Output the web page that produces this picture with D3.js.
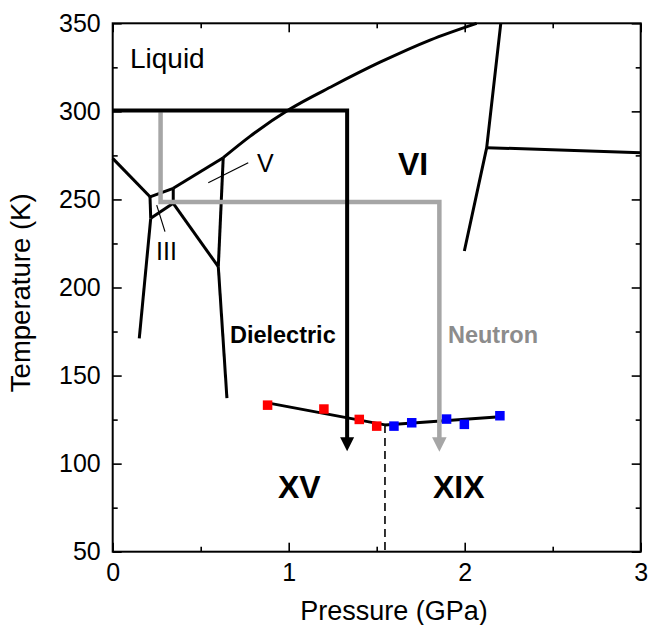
<!DOCTYPE html>
<html>
<head>
<meta charset="utf-8">
<script src="https://cdnjs.cloudflare.com/ajax/libs/d3/7.8.5/d3.min.js"></script>
<style>
  body { margin: 0; background: #fff; }
  text { font-family: "Liberation Sans", Arial, sans-serif; }
</style>
</head>
<body>
<div id="chart"></div>
<script>
(function () {
	var width = 649;
	var height = 625;
	var margin = { top: 23.3, right: 8.3, bottom: 73.3, left: 112.7 };

	// axis ticks
	var xMajor = [0, 1, 2, 3];
	var xMinor = [0.5, 1.5, 2.5];
	var yMajor = [50, 100, 150, 200, 250, 300, 350];
	var yMinor = [75, 125, 175, 225, 275, 325];

	// phase boundaries, [pressure GPa, temperature K]
	var liquidIh = [[0, 273.3], [0.212, 251.5]];
	var liquidIII = [[0.212, 251.5], [0.344, 256.3]];
	var liquidV = [[0.344, 256.3], [0.628, 273.7]];
	var liquidVI = [[0.628, 273.7], [0.78, 285.8], [1.007, 301.3], [1.25, 314.4], [1.519, 327.9], [1.803, 340.5], [2.068, 350]];
	var ihIII = [[0.212, 251.5], [0.216, 239.3]];
	var ihII = [[0.216, 239.3], [0.151, 171.1]];
	var iiiII = [[0.216, 239.3], [0.344, 247.8]];
	var iiiV = [[0.344, 256.3], [0.344, 247.8]];
	var iiV = [[0.344, 247.8], [0.6, 211.8]];
	var vVI = [[0.628, 273.7], [0.6, 211.8]];
	var iiVI = [[0.6, 211.8], [0.649, 137.2]];
	var viVII = [[2.205, 350], [2.125, 279.4], [1.998, 220.7]];
	var viiVIII = [[2.125, 279.4], [3, 276.5]];

	// transition points VI -> XV (red) and VI -> XIX (blue)
	var xvP = [0.88, 1.2, 1.401, 1.5];
	var xvT = [133.2, 131.0, 125.1, 121.3];
	var xixP = [1.598, 1.699, 1.897, 1.998, 2.2];
	var xixT = [121.3, 123.2, 125.3, 122.3, 127.2];

	// guide lines through the points
	var xvFit = [[0.88, 134.5], [1.547, 122.0]];
	var xixFit = [[1.547, 122.0], [2.2, 126.6]];
	var boundary = [[1.547, 122.0], [1.547, 50]];

	// measurement paths
	var dielectricPath = [[0, 300.5], [1.332, 300.5], [1.332, 107.1]];
	var neutronPath = [[0.272, 299.5], [0.272, 248.5], [1.856, 248.5], [1.856, 106.7]];

	// labels, anchored at [pressure, temperature]
	var labels = [
		{ text: "Liquid", at: [0.098, 324.6], cls: "plain" },
		{ text: "V", at: [0.82, 265.6], cls: "small" },
		{ text: "III", at: [0.246, 215.6], cls: "small" },
		{ text: "VI", at: [1.621, 263.9], cls: "phase" },
		{ text: "XV", at: [0.939, 80.4], cls: "phase" },
		{ text: "XIX", at: [1.82, 80.4], cls: "phase" },
		{ text: "Dielectric", at: [0.666, 168.5], cls: "method" },
		{ text: "Neutron", at: [1.905, 168.5], cls: "method gray" }
	];
	var leaders = [
		[[0.543, 259.5], [0.77, 270.8]],
		[[0.25, 246.8], [0.297, 231.7]]
	];

	var svg = d3.select("#chart")
	   .append("svg")
	   .attr("width", width)
	   .attr("height", height)

	var x = d3.scaleLinear().domain([0, 3]).range([margin.left, width - margin.right])
	var y = d3.scaleLinear().domain([50, 350]).range([height - margin.bottom, margin.top])

	var line = d3.line()
	  .x(function (d) { return x(d[0]); })
	  .y(function (d) { return y(d[1]); })

	// ticks on all four sides, pointing inward
	function ticks(axis, pos, values, size, labelled) {
		var g = svg.append("g").attr("transform", pos)
		  .call(axis.tickValues(values).tickSize(-size).tickPadding(12)
		    .tickFormat(labelled ? d3.format("d") : ""))
		g.select(".domain").remove()
		g.selectAll("line").attr("stroke", "#000").attr("stroke-width", 1.6)
		g.selectAll("text").attr("font-size", 25).attr("fill", "#000")
	}
	var bottom = "translate(0," + y(50) + ")";
	var top = "translate(0," + y(350) + ")";
	var left = "translate(" + x(0) + ",0)";
	var right = "translate(" + x(3) + ",0)";
	ticks(d3.axisBottom(x), bottom, xMajor, 9, true)
	ticks(d3.axisBottom(x), bottom, xMinor, 5, false)
	ticks(d3.axisTop(x), top, xMajor, 9, false)
	ticks(d3.axisTop(x), top, xMinor, 5, false)
	ticks(d3.axisLeft(y), left, yMajor, 9, true)
	ticks(d3.axisLeft(y), left, yMinor, 5, false)
	ticks(d3.axisRight(y), right, yMajor, 9, false)
	ticks(d3.axisRight(y), right, yMinor, 5, false)

	svg.append("rect")
	  .attr("x", x(0)).attr("y", y(350))
	  .attr("width", x(3) - x(0)).attr("height", y(50) - y(350))
	  .attr("fill", "none").attr("stroke", "#000").attr("stroke-width", 2)

	svg.append("text")
	  .attr("transform", "translate(30," + y(197) + ") rotate(-90)")
	  .attr("text-anchor", "middle")
	  .attr("font-size", 27.5)
	  .text("Temperature (K)")

	svg.append("text")
	  .attr("x", 394).attr("y", 620)
	  .attr("text-anchor", "middle")
	  .attr("font-size", 27)
	  .text("Pressure (GPa)")

	// phase diagram
	var phases = [liquidIh, liquidIII, liquidV, ihIII, ihII, iiiII, iiiV, iiV, vVI, iiVI, viVII, viiVIII];
	svg.selectAll(".phase-line")
	  .data(phases)
	  .enter().append("path")
	  .attr("class", "phase-line")
	  .attr("d", line)
	  .attr("fill", "none").attr("stroke", "#000").attr("stroke-width", 3)
	  .attr("stroke-linejoin", "round")

	svg.append("path")
	  .attr("d", line.curve(d3.curveMonotoneX)(liquidVI))
	  .attr("fill", "none").attr("stroke", "#000").attr("stroke-width", 3)
	line.curve(d3.curveLinear)

	svg.selectAll(".leader")
	  .data(leaders)
	  .enter().append("path")
	  .attr("class", "leader")
	  .attr("d", line)
	  .attr("stroke", "#000").attr("stroke-width", 1.2)

	// fits and boundary
	svg.selectAll(".fit")
	  .data([xvFit, xixFit])
	  .enter().append("path")
	  .attr("class", "fit")
	  .attr("d", line)
	  .attr("fill", "none").attr("stroke", "#000").attr("stroke-width", 3)

	svg.append("path")
	  .attr("d", line(boundary))
	  .attr("stroke", "#000").attr("stroke-width", 1.6)
	  .attr("stroke-dasharray", "8,5")

	// arrows
	function arrow(points, color, w, headLen, headHalf) {
		var tip = points[points.length - 1];
		var px = points.map(function (d) { return [x(d[0]), y(d[1])]; });
		px[px.length - 1] = [x(tip[0]), y(tip[1]) - headLen + 1];
		svg.append("path")
		  .attr("d", d3.line()(px))
		  .attr("fill", "none").attr("stroke", color).attr("stroke-width", w)
		  .attr("stroke-linejoin", "miter")
		var tx = x(tip[0]), ty = y(tip[1]);
		svg.append("path")
		  .attr("d", "M" + tx + "," + ty + "L" + (tx - headHalf) + "," + (ty - headLen) +
		    "L" + (tx + headHalf) + "," + (ty - headLen) + "Z")
		  .attr("fill", color)
	}
	arrow(neutronPath, "#a6a6a6", 4.5, 14.5, 7.3)
	arrow(dielectricPath, "#000", 4, 14, 7)

	// transition points
	var sq = 9.5;
	function squares(ps, ts, color) {
		svg.selectAll(null)
		  .data(ps)
		  .enter().append("rect")
		  .attr("x", function (d) { return x(d) - sq / 2; })
		  .attr("y", function (d, i) { return y(ts[i]) - sq / 2; })
		  .attr("width", sq).attr("height", sq)
		  .attr("fill", color)
	}
	squares(xvP, xvT, "#ff0000")
	squares(xixP, xixT, "#0000ff")

	// labels
	var sizes = { plain: 28, small: 25, phase: 32, method: 23.5 };
	svg.selectAll(".label")
	  .data(labels)
	  .enter().append("text")
	  .attr("class", "label")
	  .attr("x", function (d) { return x(d.at[0]); })
	  .attr("y", function (d) { return y(d.at[1]); })
	  .attr("font-size", function (d) { return sizes[d.cls.split(" ")[0]]; })
	  .attr("font-weight", function (d) { return d.cls == "plain" || d.cls == "small" ? "normal" : "bold"; })
	  .attr("fill", function (d) { return d.cls.indexOf("gray") >= 0 ? "#8c8c8c" : "#000"; })
	  .text(function (d) { return d.text; })

})();
</script>
</body>
</html>
